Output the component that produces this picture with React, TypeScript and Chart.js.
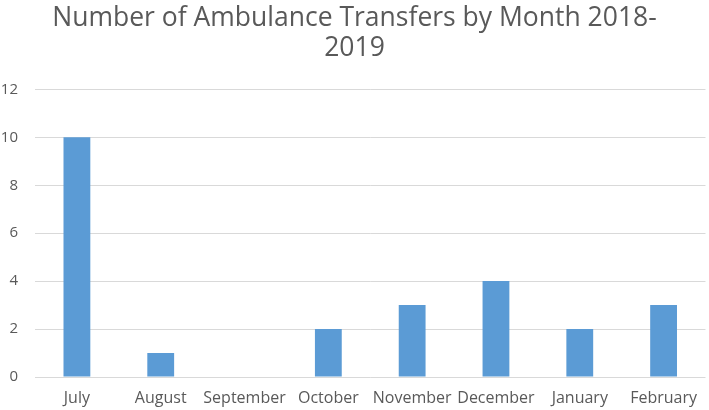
import React, { useEffect, useRef } from "react";
import { Chart, registerables } from "chart.js";

Chart.register(...registerables);

const months = ["July", "August", "September", "October", "November", "December", "January", "February"];
const transfers = [10, 1, 0, 2, 3, 4, 2, 3];
const yTicks = [0, 2, 4, 6, 8, 10, 12];
const titleLines = ["Number of Ambulance Transfers by Month 2018-", "2019"];

export default function App() {
  const ref = useRef<HTMLCanvasElement | null>(null);
  useEffect(() => {
    document.body.style.margin = "0";
    const ctx = ref.current!.getContext("2d")!;
    const chart = new Chart(ctx, {
      type: "bar",
      data: {
        labels: months,
        datasets: [
          {
            data: transfers,
            backgroundColor: "#5B9BD5",
            borderWidth: 0,
            categoryPercentage: 1,
            barPercentage: 0.32,
          },
        ],
      },
      options: {
        animation: false,
        responsive: false,
        maintainAspectRatio: false,
        layout: { padding: { top: 0, right: 0, bottom: 0, left: 0 } },
        plugins: {
          legend: { display: false },
          tooltip: { enabled: false },
          title: {
            display: true,
            text: titleLines,
            color: "#595959",
            font: { family: "Open Sans", size: 26.5, weight: "normal", lineHeight: 1.12 },
            padding: { top: 4, bottom: 26 },
          },
        },
        scales: {
          x: {
            grid: { display: false, drawTicks: false },
            border: { display: false },
            ticks: {
              color: "#595959",
              font: { family: "Open Sans", size: 16 },
              padding: 12,
              maxRotation: 0,
              autoSkip: false,
            },
            afterFit: (s: any) => {
              s.height = 33;
            },
          },
          y: {
            min: 0,
            max: 12,
            afterBuildTicks: (s: any) => {
              s.ticks = yTicks.map((v) => ({ value: v }));
            },
            grid: { color: "#D9D9D9", lineWidth: 1, drawTicks: false },
            border: { display: false },
            ticks: {
              color: "#595959",
              font: { family: "Open Sans", size: 15 },
              padding: 17,
            },
            afterFit: (s: any) => {
              s.width = 35;
            },
          },
        },
      },
    });
    return () => chart.destroy();
  }, []);
  return (
    <div style={{ width: 709, height: 410, position: "relative" }}>
      <canvas ref={ref} width={709} height={410} style={{ width: 709, height: 410, display: "block" }} />
    </div>
  );
}
